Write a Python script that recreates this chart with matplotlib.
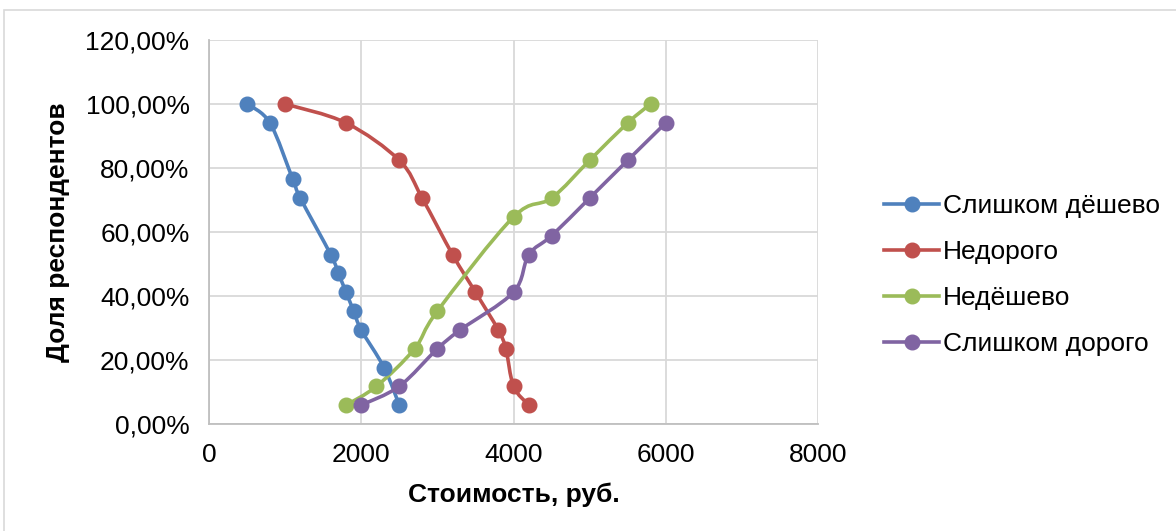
import numpy as np
import matplotlib.pyplot as plt
from matplotlib.path import Path
from matplotlib.patches import PathPatch, Rectangle
from matplotlib.lines import Line2D
from matplotlib.ticker import FuncFormatter, MultipleLocator

plt.rcParams['font.family'] = ['Liberation Sans', 'DejaVu Sans']

# Price sensitivity data (price in rubles, share of respondents)
too_cheap_x = [500, 800, 1100, 1200, 1600, 1700, 1800, 1900, 2000, 2300, 2500]
too_cheap_y = [1.0, 0.941, 0.765, 0.706, 0.529, 0.471, 0.412, 0.353, 0.294, 0.176, 0.059]

cheap_x = [1000, 1800, 2500, 2800, 3200, 3500, 3800, 3900, 4000, 4200]
cheap_y = [1.0, 0.941, 0.824, 0.706, 0.529, 0.412, 0.294, 0.235, 0.118, 0.059]

not_cheap_x = [1800, 2200, 2700, 3000, 4000, 4500, 5000, 5500, 5800]
not_cheap_y = [0.059, 0.118, 0.235, 0.353, 0.647, 0.706, 0.824, 0.941, 1.0]

too_expensive_x = [2000, 2500, 3000, 3300, 4000, 4200, 4500, 5000, 5500, 6000]
too_expensive_y = [0.059, 0.118, 0.235, 0.294, 0.412, 0.529, 0.588, 0.706, 0.824, 0.941]

labels = ['Слишком дёшево', 'Недорого', 'Недёшево', 'Слишком дорого']
colors = ['#4F81BD', '#C0504D', '#9BBB59', '#8064A2']
series = [(too_cheap_x, too_cheap_y), (cheap_x, cheap_y),
          (not_cheap_x, not_cheap_y), (too_expensive_x, too_expensive_y)]

XMAX, YMAX = 8000, 1.2
FS = 19


def smooth_path(xs, ys, ax_w, ax_h):
    # Excel-style smoothed line: cubic Bezier segments with Catmull-Rom tangents,
    # tangents computed in screen proportions so the curve looks right
    sx, sy = ax_w / XMAX, ax_h / YMAX
    p = np.column_stack([np.asarray(xs) * sx, np.asarray(ys) * sy])
    n = len(p)
    verts = [p[0]]
    codes = [Path.MOVETO]
    for i in range(n - 1):
        p0 = p[i - 1] if i > 0 else p[i]
        p3 = p[i + 2] if i + 2 < n else p[i + 1]
        c1 = p[i] + (p[i + 1] - p0) / 6
        c2 = p[i + 1] - (p3 - p[i]) / 6
        verts += [c1, c2, p[i + 1]]
        codes += [Path.CURVE4] * 3
    verts = np.array(verts) / [sx, sy]
    return Path(verts, codes)


fig = plt.figure(figsize=(11.76, 5.31), dpi=100)
fig.patches.append(Rectangle((4 / 1176, -0.1), 1.2, 1.1 - 10 / 531,
                             transform=fig.transFigure, fill=False,
                             edgecolor='#D9D9D9', linewidth=1.2))

ax = fig.add_axes([209 / 1176, 107 / 531, 609 / 1176, 384 / 531])
ax_w, ax_h = 609, 384

for (xs, ys), c, lab in zip(series, colors, labels):
    ax.add_patch(PathPatch(smooth_path(xs, ys, ax_w, ax_h), fill=False,
                           edgecolor=c, linewidth=2.6, zorder=3))
    ax.plot(xs, ys, 'o', color=c, markersize=10.5, zorder=4)

ax.set_xlim(0, XMAX)
ax.set_ylim(0, YMAX)
ax.xaxis.set_major_locator(MultipleLocator(2000))
ax.yaxis.set_major_locator(MultipleLocator(0.2))
ax.yaxis.set_major_formatter(FuncFormatter(lambda v, _: f'{v * 100:.2f}%'.replace('.', ',')))
ax.grid(True, color='#D9D9D9', linewidth=1.3)
ax.set_axisbelow(True)
for s in ['top', 'right']:
    ax.spines[s].set_visible(False)
for s in ['left', 'bottom']:
    ax.spines[s].set_color('#BFBFBF')
    ax.spines[s].set_linewidth(1.3)
ax.tick_params(length=0, labelsize=FS, pad=14)

ax.set_xlabel('Стоимость, руб.', fontsize=FS, fontweight='bold', labelpad=11)
ax.set_ylabel('Доля респондентов', fontsize=FS, fontweight='bold', labelpad=11)

handles = [Line2D([], [], color=c, linewidth=2.6, marker='o', markersize=10.5) for c in colors]
fig.legend(handles, labels, loc='center left', bbox_to_anchor=(884 / 1176, 1 - 275 / 531),
           frameon=False, fontsize=FS, handlelength=2.1, handletextpad=0.12,
           labelspacing=0.83, borderpad=0, borderaxespad=0)

fig.savefig('out.png', dpi=100)
